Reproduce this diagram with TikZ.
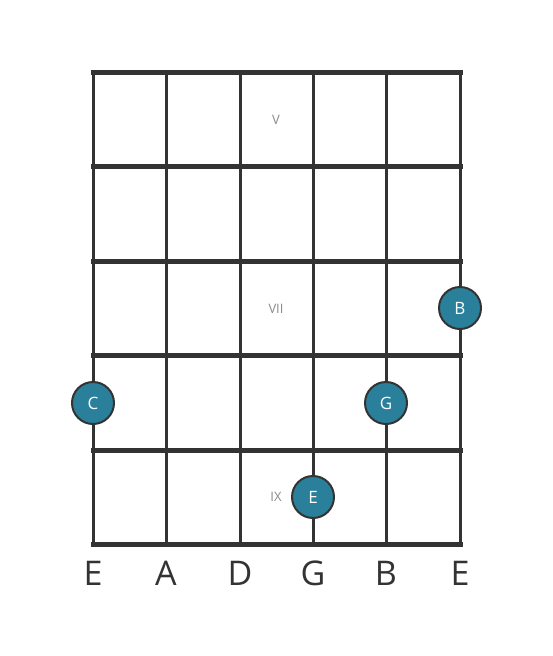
\documentclass[tikz,border=0pt]{standalone}
\usepackage{fontspec}
\setmainfont{Open Sans}
\definecolor{ink}{HTML}{333333}
\definecolor{dotfill}{HTML}{2A7F9B}
\definecolor{fretlbl}{HTML}{8A8A8A}
\begin{document}
\begin{tikzpicture}[x=1pt,y=-1pt,
  stringline/.style={ink,line width=3pt},
  fretline/.style={ink,line width=5pt,line cap=rect},
  notedot/.style={circle,draw=ink,line width=2pt,fill=dotfill,minimum size=42pt,inner sep=0pt,text=white,font=\fontsize{17}{17}\selectfont},
  fretnum/.style={text=fretlbl,font=\fontsize{13}{13}\selectfont},
  strname/.style={text=ink,font=\fontsize{34}{34}\selectfont}]
\useasboundingbox (0,0) rectangle (553,656);
\foreach \x/\n in {93/s1,166/s2,240/s3,313/s4,386/s5,460/s6}{
  \coordinate (\n t) at (\x,72);
  \coordinate (\n b) at (\x,544);
  \draw[stringline] (\n t) -- (\n b);
}
\foreach \y/\n in {72/f0,166/f1,261/f2,355/f3,450/f4,544/f5}{
  \coordinate (\n l) at (93,\y);
  \coordinate (\n r) at (460,\y);
  \draw[fretline] (\n l) -- (\n r);
}
\node[fretnum] (fv) at (276,120) {V};
\node[fretnum] (fvii) at (276,309) {VII};
\node[fretnum] (fix) at (276,497) {IX};
\node[notedot] (nB) at (460,308) {B};
\node[notedot] (nC) at (93,403) {C};
\node[notedot] (nG) at (386,403) {G};
\node[notedot] (nE) at (313,497) {E};
\foreach \x/\l/\n in {93/E/l1,166/A/l2,240/D/l3,313/G/l4,386/B/l5,460/E/l6}{
  \node[strname] (\n) at (\x,573) {\l};
}
\end{tikzpicture}
\end{document}
